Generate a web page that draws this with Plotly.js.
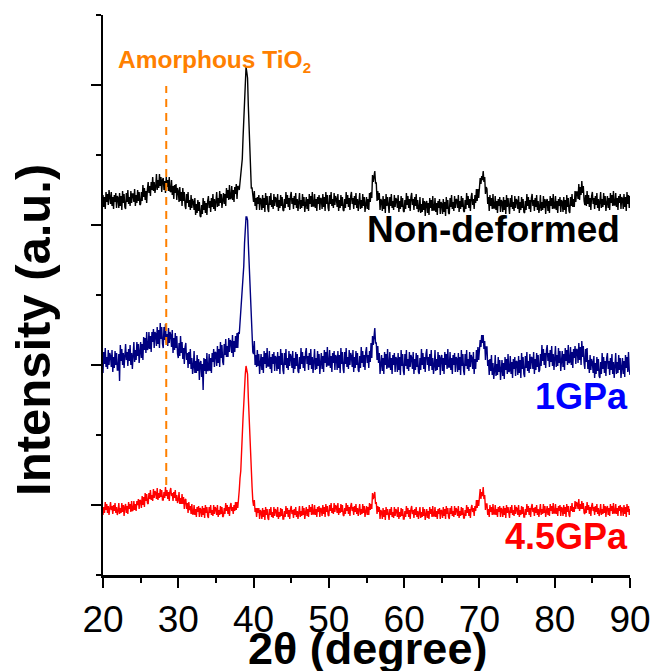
<!DOCTYPE html>
<html>
<head>
<meta charset="utf-8">
<script src="https://cdn.plot.ly/plotly-3.0.1.min.js"></script>
<style>html,body{margin:0;padding:0;background:#fff;}#chart{width:652px;height:671px;}</style>
</head>
<body>
<div id="chart"></div>
<script>
// 2θ sampling of the digitised patterns (degrees)
const twoThetaStart = 20;
const twoThetaStep = 0.1;

// Offset intensities (a.u.), 20°..90° every 0.1° (one line = 1°)
const nonDeformed = [
380,368,378,366,383,373,381,370,385,371,
371,383,369,378,366,380,373,382,367,379,
377,367,382,369,379,365,384,372,381,368,
366,382,373,385,371,378,369,384,372,381,
381,373,386,369,380,372,385,374,383,370,
371,383,374,390,378,387,375,384,372,386,
393,382,389,379,393,385,398,384,393,382,
388,401,385,395,387,401,389,398,383,395,
397,385,394,382,398,388,395,384,398,384,
383,395,380,389,376,390,382,391,375,387,
384,373,388,374,383,369,387,374,383,369,
366,381,372,383,368,375,365,380,367,376,
373,365,377,360,371,362,375,364,373,359,
358,370,361,377,365,374,362,372,360,374,
379,367,374,363,377,368,381,366,376,364,
371,383,368,377,369,384,372,381,367,380,
382,371,381,369,387,377,385,375,390,376,
377,389,375,385,373,388,381,391,376,389,
388,385,393,394,407,416,437,454,481,497,
508,503,497,470,447,418,403,387,387,376,
373,384,369,377,365,378,371,380,365,377,
375,365,380,367,377,363,382,370,379,366,
363,379,370,382,368,375,366,381,369,378,
376,368,381,364,375,367,380,369,378,365,
364,376,367,383,371,380,368,377,365,379,
383,371,377,366,379,370,382,367,376,364,
370,382,366,375,367,381,369,378,363,376,
378,366,376,364,381,371,379,368,383,369,
369,381,367,376,364,378,371,380,365,377,
376,366,381,368,378,364,383,371,380,367,
364,380,371,383,369,376,367,382,370,379,
376,368,381,364,375,367,380,369,378,365,
364,376,367,383,371,380,368,377,365,379,
383,371,377,366,379,370,382,367,376,364,
370,382,366,375,367,381,369,378,363,376,
378,366,376,365,382,373,383,377,400,393,
400,404,392,392,374,384,375,382,365,376,
374,364,379,366,376,362,381,369,378,365,
362,378,369,381,367,374,365,380,368,377,
375,367,380,363,374,366,379,368,377,364,
363,375,366,382,370,379,367,376,364,378,
382,370,376,365,378,369,381,366,375,363,
366,378,362,371,363,377,365,374,359,372,
374,362,372,360,377,367,375,364,379,365,
365,377,363,372,360,374,367,376,361,373,
371,361,376,363,373,359,378,366,375,362,
361,377,368,380,366,373,364,379,367,376,
375,367,380,363,374,366,379,368,377,364,
363,375,366,382,370,379,367,376,364,378,
382,370,376,366,380,372,386,374,386,377,
386,397,391,399,395,404,393,398,381,388,
386,371,378,364,380,369,377,366,381,367,
367,379,365,374,362,376,369,378,363,375,
373,363,378,365,375,361,380,368,377,364,
361,377,368,380,366,373,364,379,367,376,
374,366,379,362,373,365,378,367,376,363,
362,374,365,381,369,378,366,375,363,377,
381,369,375,364,377,368,380,365,374,362,
368,380,364,373,365,379,367,376,361,374,
376,364,374,362,379,369,377,366,381,367,
367,379,365,374,362,376,369,378,363,375,
373,363,378,365,375,361,380,368,377,364,
362,378,369,381,368,376,368,384,373,383,
383,376,391,375,388,380,394,382,389,374,
370,380,369,384,371,380,368,377,365,379,
383,371,377,366,379,370,382,367,376,364,
371,383,367,376,368,382,370,379,364,377,
379,367,377,365,382,372,380,369,384,370,
370,382,368,377,365,379,372,381,366,378,
376,366,381,368,378,364,383,371,380,367,
379];

const gpa1 = [
202,223,211,227,208,218,206,225,210,222,
219,208,225,203,218,207,224,210,222,205,
205,221,194,230,214,226,210,222,207,225,
231,215,223,209,226,214,230,210,222,206,
217,233,213,225,215,233,219,231,212,229,
233,217,231,215,238,225,237,222,243,225,
227,243,226,239,223,243,233,246,227,243,
241,229,248,231,245,227,252,236,248,231,
227,248,235,251,232,241,229,247,232,243,
240,228,245,222,237,225,242,227,239,221,
217,232,219,239,222,233,216,227,211,228,
232,215,222,207,223,211,226,206,217,201,
208,224,202,214,202,220,204,216,195,212,
214,198,211,185,217,204,216,201,222,204,
205,221,204,217,202,222,213,226,208,223,
222,209,229,212,226,208,233,217,230,213,
210,231,220,236,218,229,218,237,223,235,
233,222,240,218,234,223,239,227,242,227,
243,241,253,255,273,278,298,309,332,344,
358,358,355,332,313,284,269,243,240,223,
221,234,210,220,208,225,209,221,201,218,
221,205,218,202,224,211,222,207,227,209,
209,224,206,218,202,221,211,223,204,219,
217,204,223,206,219,201,226,210,222,205,
201,222,210,226,207,217,205,224,209,221,
218,207,224,202,217,206,223,209,221,204,
202,218,206,227,211,223,207,219,204,222,
227,211,219,205,222,210,226,206,218,202,
210,226,205,217,206,224,209,221,201,218,
222,206,219,203,225,212,223,208,228,210,
210,225,207,219,203,222,212,224,205,220,
218,205,224,207,220,202,227,211,223,206,
202,223,211,227,208,218,206,225,210,222,
219,208,225,203,218,207,224,210,222,205,
203,219,207,228,212,224,208,220,205,223,
228,212,220,207,224,213,232,217,239,230,
244,247,232,232,215,229,212,222,201,217,
220,204,217,201,223,210,221,206,226,208,
208,223,205,217,201,220,210,222,203,218,
216,203,222,205,218,200,225,209,221,204,
200,221,209,225,206,216,204,223,208,220,
217,206,223,201,216,205,222,208,220,203,
201,217,205,226,210,222,206,218,203,221,
226,210,218,204,221,209,225,205,217,201,
209,225,204,216,205,223,208,220,200,217,
220,204,217,201,223,210,221,206,226,208,
208,223,205,217,201,220,210,222,203,218,
216,203,222,205,218,200,225,209,221,204,
200,221,209,225,206,216,204,223,208,220,
217,206,223,201,216,206,225,213,228,215,
223,235,228,240,232,240,226,234,215,228,
228,209,215,200,216,204,220,200,212,196,
204,220,199,211,200,218,203,215,195,212,
215,199,212,196,218,205,216,201,221,203,
204,219,201,213,197,216,206,218,199,214,
213,200,219,202,215,197,222,206,218,201,
198,219,207,223,204,214,202,221,206,218,
217,206,223,201,216,205,222,208,220,203,
205,221,209,230,214,226,210,222,207,225,
230,214,222,208,225,213,229,209,221,205,
213,229,208,220,209,227,212,224,204,221,
224,208,221,205,227,214,225,210,230,212,
213,228,210,223,207,226,217,229,211,226,
225,212,232,215,228,210,234,218,229,212,
206,226,213,227,206,215,202,220,205,216,
213,202,219,197,212,201,218,204,216,199,
197,213,201,222,206,218,202,214,199,217,
222,206,214,200,217,205,221,201,213,197,
206,222,201,213,202,220,205,217,197,214,
217,201,214,198,220,207,218,203,223,205,
200];

const gpa45 = [
60,68,62,73,65,71,62,69,60,70,
73,65,69,61,70,64,72,62,68,60,
64,72,61,67,62,72,63,70,59,68,
71,62,69,61,73,66,71,63,74,64,
65,74,65,71,64,74,70,76,66,75,
74,67,79,70,78,68,82,74,81,72,
71,82,76,85,75,80,74,86,77,84,
82,76,87,75,82,77,86,78,85,75,
75,83,77,88,79,85,76,83,74,84,
87,79,82,74,83,77,85,74,80,72,
75,83,71,77,71,81,71,78,66,75,
76,66,72,62,73,65,69,61,71,61,
61,70,60,66,58,68,63,69,58,67,
65,58,69,60,67,57,70,62,68,59,
57,68,62,70,60,65,59,70,61,68,
66,60,70,58,65,60,69,61,68,58,
59,67,61,72,64,70,61,68,59,69,
72,64,68,61,70,64,73,65,73,67,
83,85,97,104,122,134,157,171,191,201,
209,206,201,178,157,131,117,95,88,74,
69,75,63,67,58,67,62,67,56,65,
63,56,67,58,65,55,68,60,66,57,
55,66,60,68,58,63,57,68,59,66,
64,58,68,56,63,58,67,59,66,56,
56,64,58,69,61,67,58,65,56,66,
69,61,65,57,66,60,68,58,64,56,
61,69,58,64,59,69,60,67,56,65,
68,59,66,58,70,63,68,60,71,61,
61,70,60,66,58,68,63,69,58,67,
66,59,70,61,68,58,71,63,69,60,
59,70,64,72,62,67,61,72,63,70,
68,62,72,60,67,62,71,63,70,60,
59,67,61,72,64,70,61,68,59,69,
72,64,68,60,69,63,71,61,67,59,
63,71,60,66,61,71,62,69,58,67,
69,60,68,60,72,65,71,66,82,76,
81,83,71,73,61,69,63,68,56,65,
63,56,67,58,65,55,68,60,66,57,
55,66,60,68,58,63,57,68,59,66,
64,58,68,56,63,58,67,59,66,56,
56,64,58,69,61,67,58,65,56,66,
69,61,65,57,66,60,68,58,64,56,
60,68,57,63,58,68,59,66,55,64,
66,57,64,56,68,61,66,58,69,59,
59,68,58,64,56,66,61,67,56,65,
64,57,68,59,66,56,69,61,67,58,
56,67,61,69,59,64,58,69,60,67,
65,59,69,57,64,59,68,60,67,57,
57,65,59,70,62,68,59,66,57,67,
70,63,67,59,69,64,75,67,75,69,
76,86,76,83,79,88,76,80,65,71,
71,60,66,58,70,63,68,60,71,61,
61,70,60,66,58,68,63,69,58,67,
65,58,69,60,67,57,70,62,68,59,
57,68,62,70,60,65,59,70,61,68,
66,60,70,58,65,60,69,61,68,58,
58,66,60,71,63,69,60,67,58,68,
71,63,67,59,68,62,70,60,66,58,
63,71,60,66,61,71,62,69,58,67,
69,60,67,59,71,64,69,61,72,62,
62,71,61,67,59,69,64,70,59,68,
66,59,70,61,68,58,71,63,69,60,
58,69,64,72,63,68,63,74,66,73,
71,66,76,64,71,66,74,66,72,62,
61,69,62,73,65,70,61,68,59,69,
72,64,68,60,69,63,71,61,67,59,
63,71,60,66,61,71,62,69,58,67,
69,60,67,59,71,64,69,61,72,62,
62,71,61,67,59,69,64,70,59,68,
66,59,70,61,68,58,71,63,69,60,
66];

// Amorphous TiO2 marker: 2θ position and vertical extent (a.u.)
const amorphousX = [28.4, 28.4];
const amorphousY = [90, 489];

const seriesNames = ['4.5GPa', '1GPa', 'Non-deformed'];
const labelText = ['<b>Non-deformed</b>', '<b>1GPa</b>', '<b>4.5GPa</b>',
  '<b>Amorphous TiO<sub><span style="font-size:15px">2</span></sub></b>'];
const axisTitles = ['<b>2θ (degree)</b>', '<b>Intensity (a.u.)</b>'];

const FONT = 'Arial, "Liberation Sans", sans-serif';

const traces = [
  {type:'scatter', mode:'lines', name:seriesNames[0], x0:twoThetaStart, dx:twoThetaStep, y:gpa45,
   line:{color:'#ff0000', width:1.4}},
  {type:'scatter', mode:'lines', name:seriesNames[1], x0:twoThetaStart, dx:twoThetaStep, y:gpa1,
   line:{color:'#000080', width:1.4}},
  {type:'scatter', mode:'lines', name:seriesNames[2], x0:twoThetaStart, dx:twoThetaStep, y:nonDeformed,
   line:{color:'#000000', width:1.4}},
  {type:'scatter', mode:'lines', name:'Amorphous TiO2', x:amorphousX, y:amorphousY,
   line:{color:'#ff8000', width:2, dash:'8px,6px'}}
];

const layout = {
  width:652, height:671,
  margin:{l:103, r:22, t:15, b:96, pad:0},
  paper_bgcolor:'#ffffff', plot_bgcolor:'#ffffff',
  showlegend:false,
  font:{family:FONT, color:'#000'},
  xaxis:{
    range:[20,90], tickmode:'linear', tick0:20, dtick:10,
    showline:true, linecolor:'#000', linewidth:2.5, mirror:false,
    showgrid:false, zeroline:false,
    ticks:'outside', ticklen:10, tickwidth:2, tickcolor:'#000',
    minor:{tick0:20, dtick:5, ticks:'outside', ticklen:5, tickwidth:2, tickcolor:'#000', showgrid:false},
    tickfont:{family:FONT, size:37, color:'#000'}
  },
  yaxis:{
    range:[0,560], tickmode:'linear', tick0:70, dtick:140,
    showline:true, linecolor:'#000', linewidth:2.5, mirror:false,
    showgrid:false, zeroline:false, showticklabels:false,
    ticks:'outside', ticklen:10, tickwidth:2, tickcolor:'#000',
    minor:{tick0:0, dtick:70, ticks:'outside', ticklen:5, tickwidth:2, tickcolor:'#000', showgrid:false}
  },
  annotations:[
    {xref:'paper', yref:'paper', x:0.501, y:-0.131, xanchor:'center', yanchor:'middle',
     showarrow:false, text:axisTitles[0], font:{family:FONT, size:45, color:'#000'}},
    {xref:'paper', yref:'paper', x:-0.133, y:0.4375, xanchor:'center', yanchor:'middle', textangle:-90,
     showarrow:false, text:axisTitles[1], font:{family:FONT, size:49, color:'#000'}},
    {xref:'paper', yref:'y', x:0.985, y:346, xanchor:'right', yanchor:'middle', showarrow:false,
     text:labelText[0], font:{family:FONT, size:37, color:'#000000'}},
    {xref:'paper', yref:'y', x:1.0, y:179, xanchor:'right', yanchor:'middle', showarrow:false,
     text:labelText[1], font:{family:FONT, size:36, color:'#0000ff'}},
    {xref:'paper', yref:'y', x:1.0, y:39, xanchor:'right', yanchor:'middle', showarrow:false,
     text:labelText[2], font:{family:FONT, size:36, color:'#ff0000'}},
    {xref:'paper', yref:'y', x:0.024, y:514, xanchor:'left', yanchor:'middle', showarrow:false,
     text:labelText[3], font:{family:FONT, size:24.5, color:'#ff8000'}}
  ]
};

Plotly.newPlot('chart', traces, layout, {displayModeBar:false, staticPlot:true});
</script>
</body>
</html>
